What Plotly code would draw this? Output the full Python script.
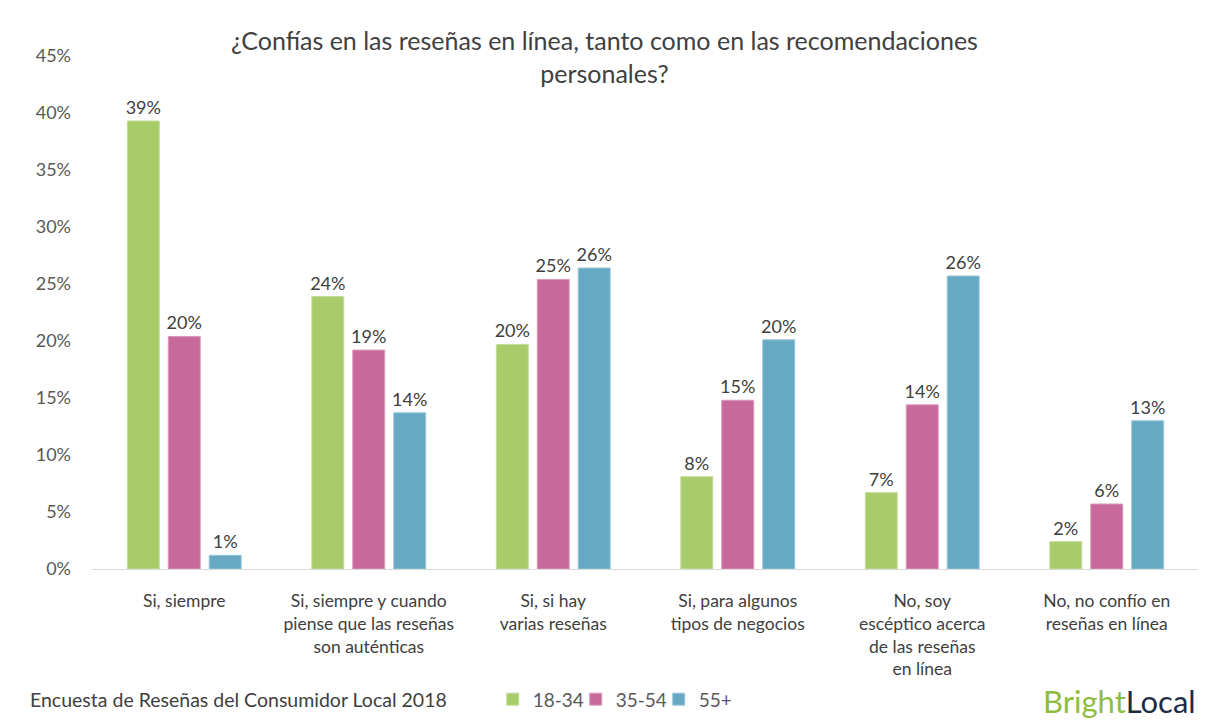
import plotly.graph_objects as go

categories = [
    "Si, siempre",
    "Si, siempre y cuando<br>piense que las reseñas<br>son auténticas",
    "Si, si hay<br>varias reseñas",
    "Si, para algunos<br>tipos de negocios",
    "No, soy<br>escéptico acerca<br>de las reseñas<br>en línea",
    "No, no confío en<br>reseñas en línea",
]
age_groups = ["18-34", "35-54", "55+"]
values_18_34 = [39.3, 23.9, 19.7, 8.1, 6.7, 2.4]
values_35_54 = [20.4, 19.2, 25.4, 14.8, 14.4, 5.7]
values_55_plus = [1.2, 13.7, 26.4, 20.1, 25.7, 13.0]
y_ticks = [0, 5, 10, 15, 20, 25, 30, 35, 40, 45]

series = [values_18_34, values_35_54, values_55_plus]
colors = ["#a9cc6b", "#c8699b", "#67a9c3"]
borders = ["#c4dd98", "#dc97bb", "#97c6d8"]

font_family = "Lato, 'Open Sans', sans-serif"

fig = go.Figure()

for name, vals, color, border in zip(age_groups, series, colors, borders):
    fig.add_trace(go.Bar(
        x=categories,
        y=vals,
        name=name,
        marker=dict(color=color, line=dict(color=border, width=1)),
        texttemplate="%{y:.0f}%",
        textposition="outside",
        constraintext="none",
        textfont=dict(size=18, color="#404040"),
        cliponaxis=False,
        hoverinfo="skip",
    ))

# page has an 8px body margin, so the figure is a bit smaller than the window
fig.update_layout(
    width=1198,
    height=717,
    barmode="group",
    bargap=0.334,
    bargroupgap=0.22,
    plot_bgcolor="white",
    paper_bgcolor="white",
    font=dict(family=font_family, color="#404040"),
    margin=dict(l=84, r=7, t=48, b=150),
    showlegend=True,
    legend=dict(
        orientation="h",
        x=0.362, xanchor="left",
        y=-0.254, yanchor="middle",
        font=dict(size=19, color="#595959"),
        itemwidth=30,
        entrywidth=38,
        traceorder="normal",
    ),
    xaxis=dict(
        showline=True,
        linecolor="#d9d9d9",
        linewidth=1,
        ticks="",
        tickfont=dict(size=17.5, color="#404040"),
        ticklabelstandoff=16,
        tickangle=0,
    ),
    yaxis=dict(
        range=[0, 45],
        tickvals=y_ticks,
        ticktext=[f"{v}%" for v in y_ticks],
        showgrid=False,
        zeroline=False,
        showline=False,
        tickfont=dict(size=18, color="#595959"),
        ticklabelstandoff=20,
    ),
    annotations=[
        dict(
            text="¿Confías en las reseñas en línea, tanto como en las recomendaciones<br>personales?",
            xref="paper", yref="paper",
            x=0.463, y=1.0,
            xanchor="center", yanchor="middle",
            showarrow=False,
            font=dict(size=25, color="#404040"),
        ),
        dict(
            text="Encuesta de Reseñas del Consumidor Local 2018",
            xref="paper", yref="paper",
            x=-0.058, y=-0.254,
            xanchor="left", yanchor="middle",
            showarrow=False,
            font=dict(size=19.5, color="#404040"),
        ),
        dict(
            text="<span style='color:#8dbd3e'>Bright</span><span style='color:#1e2b45'>Local</span>",
            xref="paper", yref="paper",
            x=0.999, y=-0.258,
            xanchor="right", yanchor="middle",
            showarrow=False,
            font=dict(size=31),
        ),
    ],
)

fig.write_html("out.html")
